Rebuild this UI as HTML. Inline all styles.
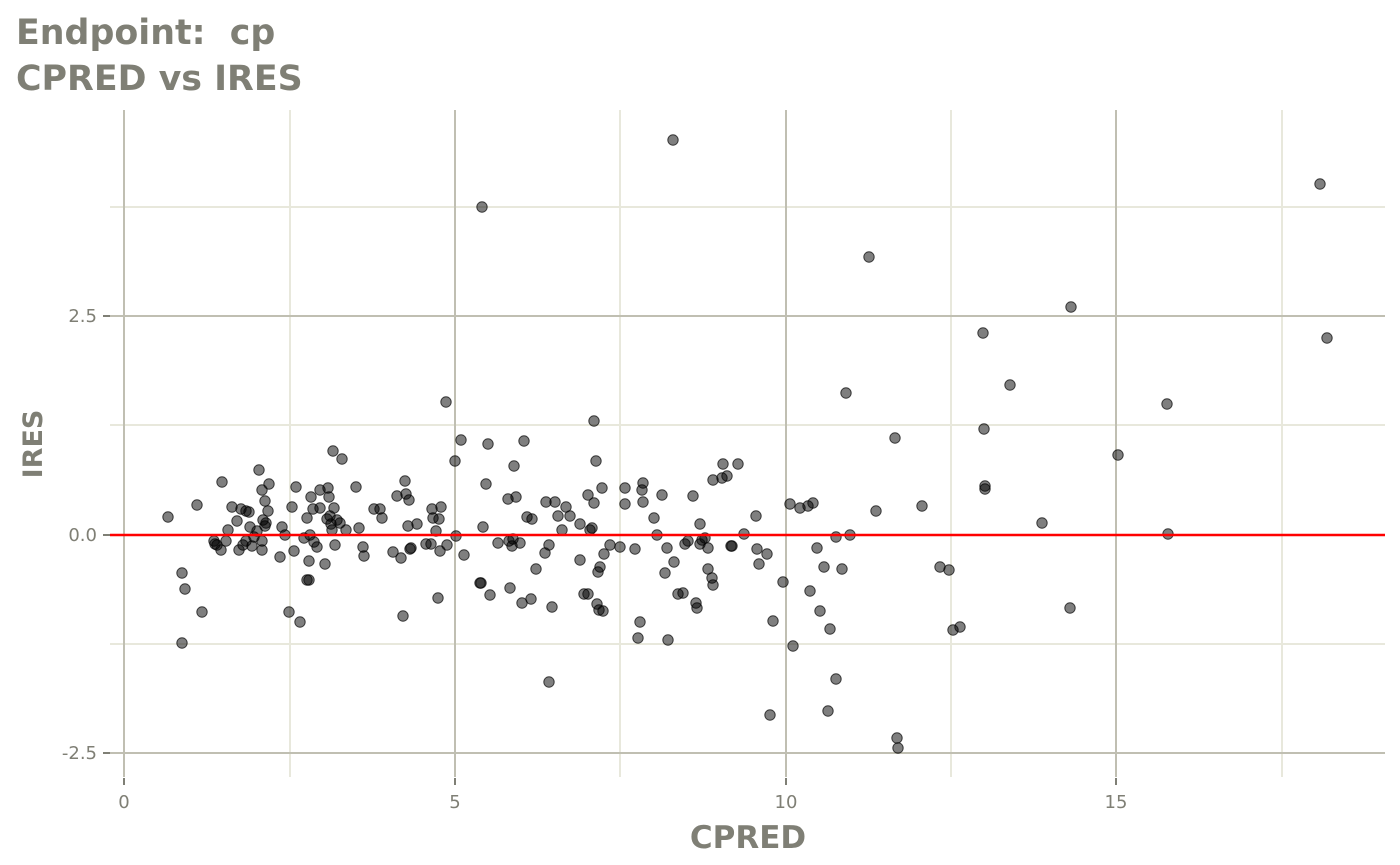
<!DOCTYPE html>
<html><head><meta charset="utf-8"><style>
html,body{margin:0;padding:0;background:#fff;}
svg{display:block;font-family:"DejaVu Sans","Liberation Sans",sans-serif;}
</style></head><body>
<svg id="s" width="1400" height="865" viewBox="0 0 1400 865" xmlns="http://www.w3.org/2000/svg">
<rect width="1400" height="865" fill="#fff"/>
<text x="16" y="44" font-size="34.8" font-weight="bold" fill="#7f7f75" style="white-space:pre" xml:space="preserve">Endpoint:  cp</text>
<text x="16" y="90" font-size="34.8" font-weight="bold" fill="#7f7f75">CPRED vs IRES</text>
<g stroke="#e8e8dc" stroke-width="2">
<line x1="290" y1="110" x2="290" y2="777"/><line x1="620" y1="110" x2="620" y2="777"/>
<line x1="951" y1="110" x2="951" y2="777"/><line x1="1282" y1="110" x2="1282" y2="777"/>
<line x1="110" y1="207" x2="1385" y2="207"/><line x1="110" y1="425" x2="1385" y2="425"/>
<line x1="110" y1="644" x2="1385" y2="644"/>
</g>
<g stroke="#c0bfb2" stroke-width="2">
<line x1="124" y1="110" x2="124" y2="777"/><line x1="455" y1="110" x2="455" y2="777"/>
<line x1="786" y1="110" x2="786" y2="777"/><line x1="1116" y1="110" x2="1116" y2="777"/>
<line x1="110" y1="316" x2="1385" y2="316"/><line x1="110" y1="535" x2="1385" y2="535"/>
<line x1="110" y1="753" x2="1385" y2="753"/>
</g>
<g stroke="#7f7f75" stroke-width="2">
<line x1="124" y1="778" x2="124" y2="785"/><line x1="455" y1="778" x2="455" y2="785"/>
<line x1="786" y1="778" x2="786" y2="785"/><line x1="1116" y1="778" x2="1116" y2="785"/>
<line x1="103" y1="316" x2="110" y2="316"/><line x1="103" y1="535" x2="110" y2="535"/>
<line x1="103" y1="753" x2="110" y2="753"/>
</g>
<g font-size="18" fill="#7f7f75">
<text x="124" y="808" text-anchor="middle">0</text>
<text x="455" y="808" text-anchor="middle">5</text>
<text x="786" y="808" text-anchor="middle">10</text>
<text x="1116" y="808" text-anchor="middle">15</text>
<text x="97" y="322" text-anchor="end">2.5</text>
<text x="97" y="541" text-anchor="end">0.0</text>
<text x="97" y="759" text-anchor="end">-2.5</text>
</g>
<text x="748" y="848" font-size="31" font-weight="bold" fill="#7f7f75" text-anchor="middle">CPRED</text>
<text transform="translate(42,444) rotate(-90)" font-size="27" font-weight="bold" fill="#7f7f75" text-anchor="middle">IRES</text>
<g id="pts" fill="#000" fill-opacity="0.5" stroke="#000" stroke-opacity="0.7" stroke-width="1"></g>
<line x1="110" y1="535" x2="1385" y2="535" stroke="#ff0000" stroke-width="2.5"/>
</svg>
<script>
var p=[168,517,182,573,185,589,182,643,197,505,202,612,214,541,215,544,217,545,221,550,222,482,226,541,228,530,232,507,237,521,239,550,241,509,243,545,246,511,246,541,249,512,250,527,252,546,254,537,257,531,259,470,262,490,262,541,262,550,263,520,265,501,265,526,266,523,268,511,269,484,280,557,282,527,285,535,289,612,292,507,294,551,296,487,300,622,304,538,307,518,307,580,309,580,309,561,310,535,311,497,313,509,314,542,317,547,320,490,320,508,325,564,327,519,328,488,329,497,330,516,331,524,332,530,333,451,334,508,335,545,337,520,340,523,342,459,346,530,356,487,359,528,363,547,364,556,374,509,380,509,382,518,393,552,397,496,401,558,403,616,405,481,406,494,408,526,409,500,410,549,411,548,417,524,426,544,431,544,432,509,433,518,436,531,438,598,439,519,440,551,441,507,446,402,447,545,455,461,456,536,461,440,464,555,480,583,481,583,482,207,483,527,486,484,488,444,490,595,498,543,508,499,509,541,510,588,512,546,513,539,514,466,516,497,520,543,522,603,524,441,527,517,532,519,531,599,536,569,545,553,546,502,549,545,549,682,552,607,555,502,558,516,562,530,566,507,570,516,580,560,580,524,584,594,588,495,588,594,590,530,592,528,594,503,594,421,596,461,597,604,598,572,599,610,600,567,602,488,603,611,604,554,610,545,620,547,625,504,625,488,635,549,638,638,640,622,642,490,643,483,643,502,654,518,657,535,662,495,665,573,667,548,668,640,674,562,678,594,683,593,685,544,688,541,693,496,696,603,697,608,700,524,700,544,702,540,705,538,708,548,708,569,713,480,713,585,722,478,727,476,731,546,732,546,738,464,744,534,756,516,757,549,759,564,767,554,770,715,773,621,783,582,790,504,793,646,800,508,808,506,810,591,813,503,817,548,820,611,824,567,828,711,830,629,836,537,836,679,842,569,846,393,850,535,869,257,876,511,895,438,897,738,898,748,922,506,940,567,949,570,953,630,960,627,983,333,984,429,985,486,985,489,1010,385,1042,523,1070,608,1071,307,1118,455,1167,404,1168,534,1320,184,1327,338,673,140,712,578,723,464];
var g=document.getElementById('pts'),h='';
for(var i=0;i<p.length;i+=2)h+='<circle cx="'+p[i]+'" cy="'+p[i+1]+'" r="5.2"/>';
g.innerHTML=h;
</script>
</body></html>
